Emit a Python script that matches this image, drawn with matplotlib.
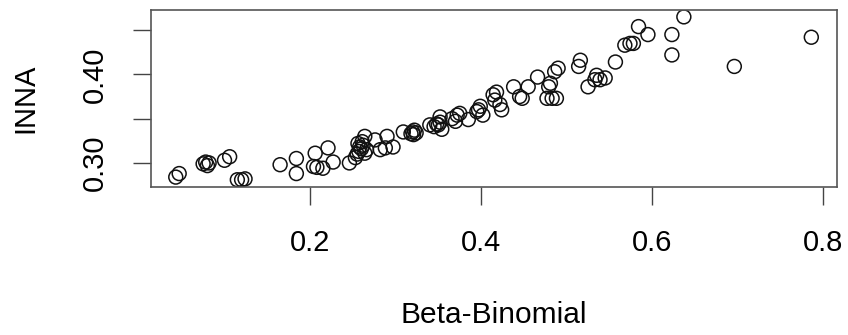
import matplotlib
matplotlib.use('Agg')
import matplotlib.pyplot as plt
import numpy as np

# Beta-Binomial estimates vs INNA estimates
betabin = [0.043, 0.047,
           0.075, 0.078, 0.080, 0.082,
           0.100, 0.106,
           0.115, 0.120, 0.124,
           0.165,
           0.184, 0.184,
           0.206, 0.204, 0.208, 0.215,
           0.221, 0.227,
           0.246,
           0.253, 0.255, 0.257, 0.258, 0.260, 0.262, 0.256, 0.261, 0.264, 0.266,
           0.264,
           0.276, 0.282, 0.288, 0.290, 0.297,
           0.309, 0.318, 0.320, 0.322, 0.324, 0.321,
           0.340, 0.345, 0.348, 0.350, 0.352, 0.354, 0.352,
           0.366, 0.370, 0.375, 0.372, 0.385,
           0.395, 0.399, 0.402, 0.397,
           0.414, 0.416, 0.418, 0.424, 0.422,
           0.438, 0.445, 0.448, 0.455,
           0.466,
           0.477, 0.479, 0.481, 0.483, 0.488, 0.486, 0.490,
           0.514, 0.516,
           0.525,
           0.535, 0.539, 0.545, 0.533,
           0.557,
           0.568, 0.574, 0.578,
           0.584, 0.595,
           0.623, 0.623,
           0.637,
           0.696,
           0.786]
inna = [0.284, 0.288,
        0.299, 0.301, 0.297, 0.300,
        0.303, 0.307,
        0.281, 0.281, 0.282,
        0.298,
        0.305, 0.288,
        0.311, 0.296, 0.295, 0.294,
        0.317, 0.301,
        0.300,
        0.306, 0.310, 0.313, 0.318, 0.316, 0.320, 0.322, 0.324, 0.311, 0.315,
        0.330,
        0.326, 0.315, 0.317, 0.330, 0.318,
        0.335, 0.333, 0.335, 0.337, 0.334, 0.332,
        0.343, 0.341, 0.344, 0.343, 0.346, 0.338, 0.352,
        0.350, 0.347, 0.356, 0.354, 0.349,
        0.358, 0.364, 0.354, 0.360,
        0.377, 0.371, 0.380, 0.360, 0.366,
        0.386, 0.375, 0.373, 0.386,
        0.397,
        0.373, 0.386, 0.390, 0.373, 0.373, 0.403, 0.407,
        0.409, 0.416,
        0.386,
        0.399, 0.394, 0.396, 0.394,
        0.414,
        0.433, 0.435, 0.435,
        0.454, 0.445,
        0.445, 0.422,
        0.465,
        0.409,
        0.442]

xticks = [0.2, 0.4, 0.6, 0.8]
yticks = [0.30, 0.35, 0.40, 0.45]
ylabs = ['0.30', '', '0.40', '']

plt.rcParams['font.family'] = ['Liberation Sans', 'DejaVu Sans']

fig = plt.figure(figsize=(8.48, 3.35), dpi=100)
ax = fig.add_axes([0.178, 0.442, 0.809, 0.528])

ax.scatter(betabin, inna, s=100, facecolors='none', edgecolors='#111111', linewidths=1.1)

ax.set_xlim(0.014, 0.816)
ax.set_ylim(0.2729, 0.4727)
ax.set_xticks(xticks)
ax.set_xticklabels([str(t) for t in xticks])
ax.set_yticks(yticks)
ax.set_yticklabels(ylabs, rotation=90, va='center')

for sp in ax.spines.values():
    sp.set_color('#555555')
    sp.set_linewidth(1.2)

ax.tick_params(axis='both', direction='out', length=13, width=1.0, color='#444444',
               labelsize=21, pad=17)

ax.set_xlabel('Beta-Binomial', fontsize=21.5, labelpad=32)
ax.set_ylabel('INNA', fontsize=21, labelpad=30)

plt.savefig('out.png', dpi=100)
plt.close()
